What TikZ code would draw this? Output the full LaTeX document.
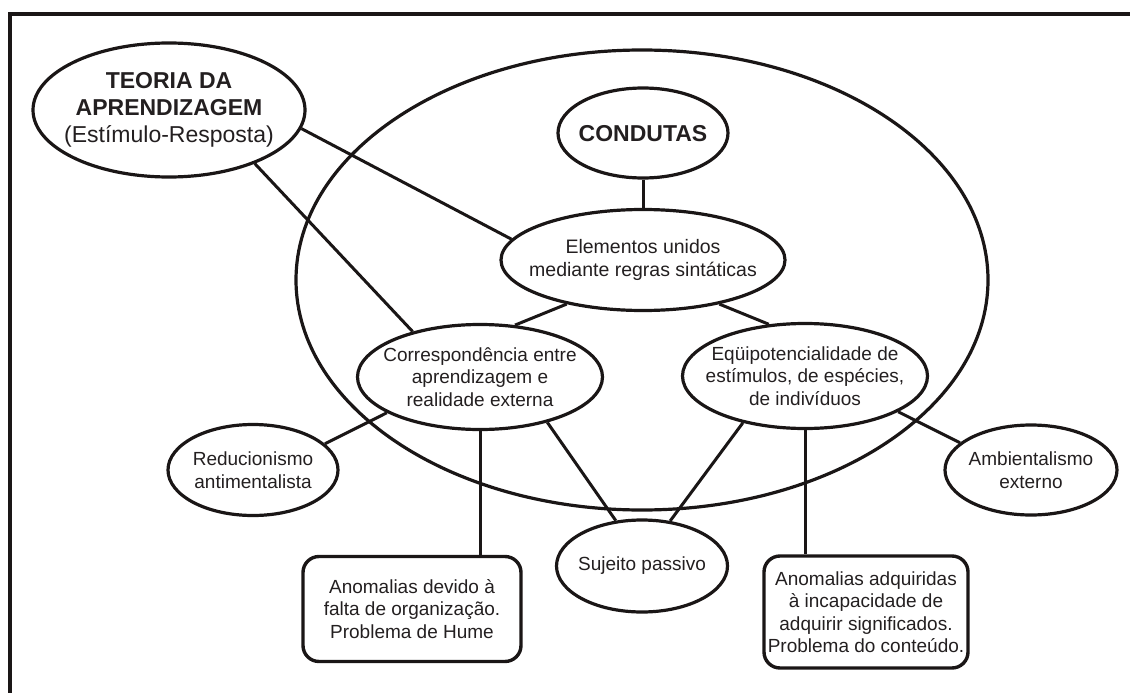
\documentclass[tikz,border=0pt]{standalone}
\usepackage{fontspec}
\setmainfont{Liberation Sans}
\usetikzlibrary{shapes.geometric}
\definecolor{ink}{HTML}{1A1616}
\definecolor{txt}{HTML}{231F20}
\tikzset{
  ell/.style n args={2}{ellipse, draw=ink, line width=3.2pt, inner sep=0pt,
    minimum width=#1, minimum height=#2},
  small/.style={align=center, text=txt, inner sep=0pt,
    font=\fontsize{19}{22.5}\selectfont},
  large/.style={align=center, text=txt, inner sep=0pt,
    font=\fontsize{23}{27}\selectfont},
  conn/.style={draw=ink, line width=3pt},
  boxs/.style={draw=ink, rounded corners=16pt, line width=3.4pt, inner sep=0pt,
    align=center, text=txt, font=\fontsize{19}{22.5}\selectfont},
}
\begin{document}
\begin{tikzpicture}[x=1pt,y=-1pt]
\useasboundingbox (0,0) rectangle (1130,693);
% frame
\draw[draw=ink, line width=4pt] (10,693) -- (10,14) -- (1130,14);
% big ellipse
\node[ell={692}{460}] (big) at (642,280) {};
% ellipses
\node[ell={272}{134}] (teoria) at (169,110) {};
\node[large] (teoriaT) at (169,110) {\textbf{TEORIA DA}\\\textbf{APRENDIZAGEM}\\(Estímulo-Resposta)};
\node[ell={170}{90}] (cond) at (643,133) {};
\node[large] (condT) at (643,134) {\textbf{CONDUTAS}};
\node[ell={284}{101}] (elem) at (643,260) {};
\node[small, font=\fontsize{19.5}{23}\selectfont] (elemT) at (643,260) {Elementos unidos\\mediante regras sintáticas};
\node[ell={245}{105}] (corr) at (480,377) {};
\node[small] (corrT) at (480,377) {Correspondência entre\\aprendizagem e\\realidade externa};
\node[ell={245}{105}] (equip) at (805,376) {};
\node[small] (equipT) at (805,376) {Eqüipotencialidade de\\estímulos, de espécies,\\de indivíduos};
\node[ell={170}{91}] (reduc) at (253,470) {};
\node[small] (reducT) at (253,470) {Reducionismo\\antimentalista};
\node[ell={172}{90}] (amb) at (1031,470) {};
\node[small] (ambT) at (1031,470) {Ambientalismo\\externo};
\node[ell={171}{92}] (suj) at (642,566) {};
\node[small] (sujT) at (642,566) {Sujeito passivo};
% boxes
\node[boxs, minimum width=218, minimum height=105] (lbox) at (412,609)
  {Anomalias devido à\\falta de organização.\\Problema de Hume};
\node[boxs, minimum width=204, minimum height=112] (rbox) at (866,612)
  {Anomalias adquiridas\\à incapacidade de\\adquirir significados.\\Problema do conteúdo.};
% connectors
\draw[conn] (teoria.-8) -- (elem.171);
\draw[conn] (teoria.-32) -- (corr.146);
\draw[conn] (cond.south) -- (elem.north);
\draw[conn] (elem.210) -- (corr.56);
\draw[conn] (elem.-30) -- (equip.125);
\draw[conn] (corr.201) -- (reduc.20);
\draw[conn] (equip.-21) -- (amb.159);
\draw[conn] (corr.-34) -- (suj.120);
\draw[conn] (equip.217) -- (suj.58);
\draw[conn] (corr.south) -- (corr.south |- lbox.north);
\draw[conn] (equip.south) -- (equip.south |- rbox.north);
\end{tikzpicture}
\end{document}
